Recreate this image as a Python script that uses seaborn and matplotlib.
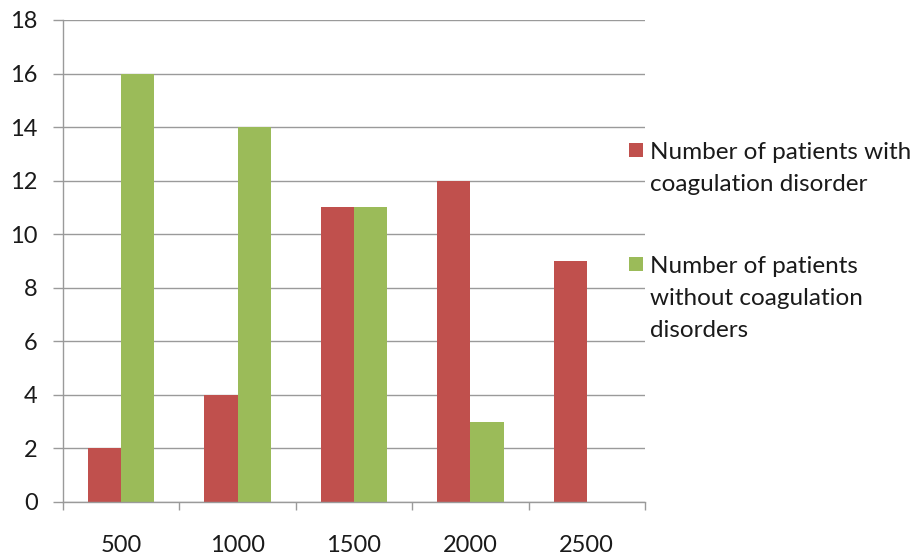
import matplotlib
matplotlib.use("Agg")
import matplotlib.pyplot as plt
import seaborn as sns
import pandas as pd
from matplotlib.patches import Rectangle

categories = ["500", "1000", "1500", "2000", "2500"]
with_disorder = [2, 4, 11, 12, 9]
without_disorder = [16, 14, 11, 3, 0]
series_names = ["Number of patients with\ncoagulation disorder",
                "Number of patients\nwithout coagulation\ndisorders"]
y_ticks = [0, 2, 4, 6, 8, 10, 12, 14, 16, 18]
colors = ["#C0504D", "#9BBB59"]

df = pd.DataFrame({
    "cat": categories * 2,
    "value": with_disorder + without_disorder,
    "series": [series_names[0]] * len(categories) + [series_names[1]] * len(categories),
})

sns.set_style("white")
plt.rcParams["font.family"] = ["Lato", "DejaVu Sans"]

W, H = 916, 557
fig = plt.figure(figsize=(W / 100, H / 100), dpi=100)
ax = fig.add_axes([63 / W, 1 - 502 / H, (645 - 63) / W, (502 - 20) / H])

sns.barplot(data=df, x="cat", y="value", hue="series", order=categories,
            hue_order=series_names, palette=colors, width=0.57, saturation=1,
            linewidth=0, ax=ax, legend=False)

grid_c = "#9a9a9a"
txt_c = "#1a1a1a"
ax.set_xlim(-0.5, len(categories) - 0.5)
ax.set_ylim(0, 18)
ax.set_yticks(y_ticks)
ax.yaxis.grid(True, color=grid_c, linewidth=1)
ax.set_axisbelow(True)
ax.set_xlabel("")
ax.set_ylabel("")
for s in ["top", "right"]:
    ax.spines[s].set_visible(False)
for s in ["left", "bottom"]:
    ax.spines[s].set_color(grid_c)
    ax.spines[s].set_linewidth(1)

ax.tick_params(axis="y", which="major", direction="out", length=7.2, width=1,
               color=grid_c, pad=11, labelsize=17, labelcolor=txt_c, left=True)
ax.tick_params(axis="x", which="major", length=0, pad=24, labelsize=17,
               labelcolor=txt_c)
ax.set_xticks(range(len(categories)), categories)
ax.set_xticks([i - 0.5 for i in range(len(categories) + 1)], minor=True)
ax.tick_params(axis="x", which="minor", direction="out", length=6, width=1,
               color=grid_c, bottom=True)

# legend (manual, squares aligned with first text line)
legend_tops = [143, 257]
for color, name, top in zip(colors, series_names, legend_tops):
    fig.patches.append(Rectangle((629 / W, 1 - (top + 14) / H), 14 / W, 14 / H,
                                 transform=fig.transFigure, facecolor=color,
                                 edgecolor="none"))
    fig.text(650 / W, 1 - (top - 1) / H, name, ha="left", va="top",
             fontsize=17.5, color=txt_c, linespacing=1.64)

fig.savefig("out.png", dpi=100)
